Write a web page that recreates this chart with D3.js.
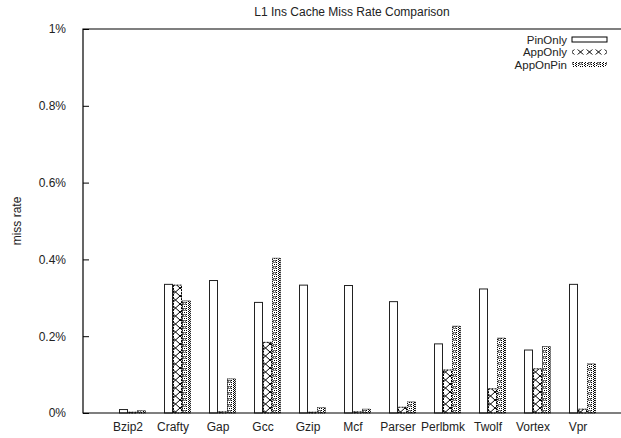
<!DOCTYPE html>
<html><head><meta charset="utf-8">
<script src="https://cdn.jsdelivr.net/npm/d3@7"></script>
<style>body{margin:0;background:#fff}svg{display:block}text{font-family:"Liberation Sans",Arial,sans-serif;fill:#222}</style>
</head><body><div id="chart"></div>
<script>
const categories = ["Bzip2","Crafty","Gap","Gcc","Gzip","Mcf","Parser","Perlbmk","Twolf","Vortex","Vpr"];
const seriesNames = ["PinOnly","AppOnly","AppOnPin"];
const pinOnly  = [0.009,0.335,0.345,0.288,0.333,0.332,0.290,0.180,0.323,0.164,0.335];
const appOnly  = [0.002,0.333,0.003,0.184,0.002,0.003,0.015,0.112,0.063,0.115,0.010];
const appOnPin = [0.006,0.292,0.089,0.403,0.014,0.010,0.029,0.226,0.195,0.173,0.128];
const yTicks = [0,0.2,0.4,0.6,0.8,1];
const yTickLabels = ["0%","0.2%","0.4%","0.6%","0.8%","1%"];
const title = "L1 Ins Cache Miss Rate Comparison";
const yTitle = "miss rate";

(function(){
const W=621,H=438;
const mLeft=83, mTop=29, mBottom=413, mRight=621;
const svg=d3.select("#chart").append("svg").attr("width",W).attr("height",H);
const defs=svg.append("defs");
const p1=defs.append("pattern").attr("id","pApp").attr("patternUnits","userSpaceOnUse").attr("width",9).attr("height",8);
p1.append("rect").attr("width",9).attr("height",8).attr("fill","#fff");
p1.append("path").attr("d","M0,0L9,8M9,0L0,8").attr("stroke","#000").attr("stroke-width",1);
const p2=defs.append("pattern").attr("id","pAppPin").attr("patternUnits","userSpaceOnUse").attr("width",9).attr("height",6);
p2.append("rect").attr("width",9).attr("height",6).attr("fill","#fff");
[[0,0],[2,1],[0,2],[2,3],[0,4],[2,5],[6,0],[8,1],[6,2],[8,3],[6,4],[8,5],[4,0]].forEach(d=>p2.append("rect").attr("x",d[0]).attr("y",d[1]).attr("width",1).attr("height",1).attr("fill","#000"));
p2.append("rect").attr("x",3.5).attr("y",2.5).attr("width",2).attr("height",2).attr("fill","none").attr("stroke","#555").attr("stroke-width",0.8);

const fills={PinOnly:"#fff",AppOnly:"url(#pApp)",AppOnPin:"url(#pAppPin)"};
const dash={PinOnly:null,AppOnly:"2,1",AppOnPin:"1,1"};

const y=d3.scaleLinear().domain([0,1]).range([mBottom,mTop]);
const x0=d3.scaleBand().domain(categories).range([119,596]).paddingInner(0.4).paddingOuter(0);
const x1=d3.scaleBand().domain(seriesNames).range([0,x0.bandwidth()]).padding(0);
const data=categories.map((c,i)=>({cat:c,vals:[pinOnly[i],appOnly[i],appOnPin[i]]}));

svg.append("text").attr("x",352).attr("y",16).attr("text-anchor","middle").attr("font-size",12).text(title);
svg.append("text").attr("transform","translate(21,221) rotate(-90)").attr("text-anchor","middle").attr("font-size",12).text(yTitle);

const g=svg.append("g");
data.forEach(d=>{
  seriesNames.forEach((s,j)=>{
    g.append("rect").attr("x",x0(d.cat)+x1(s)+0.5).attr("y",y(d.vals[j])).attr("width",x1.bandwidth()-1)
     .attr("height",Math.max(0,mBottom-y(d.vals[j]))).attr("fill",fills[s]).attr("stroke",s==="PinOnly"?"#222":"#000").attr("stroke-width",1)
     .attr("stroke-dasharray",dash[s]);
  });
});

const yAxis=d3.axisLeft(y).tickValues(yTicks).tickFormat((d,i)=>yTickLabels[i]).tickSize(-6).tickPadding(17);
const ya=svg.append("g").attr("transform",`translate(${mLeft},0)`).call(yAxis);
ya.select(".domain").remove();
ya.selectAll("line").attr("stroke","#000");
ya.selectAll("text").attr("font-size",12).attr("font-family","Liberation Sans, Arial, sans-serif").attr("fill","#222");

const xAxis=d3.axisBottom(x0).tickSize(0).tickPadding(9);
const xa=svg.append("g").attr("transform",`translate(0,${mBottom})`).call(xAxis);
xa.select(".domain").remove();
xa.selectAll(".tick").attr("transform",d=>`translate(${x0(d)+x1("AppOnly")},0)`);
xa.selectAll("text").attr("font-size",12).attr("font-family","Liberation Sans, Arial, sans-serif").attr("fill","#222");

svg.append("path").attr("d",`M${mRight},${mTop}H${mLeft}V${mBottom}H${mRight}`).attr("fill","none").attr("stroke","#000").attr("stroke-width",1.2);

const ly=[39.5,52,64.5];
seriesNames.forEach((s,i)=>{
  svg.append("text").attr("x",567).attr("y",ly[i]).attr("dy","0.35em").attr("text-anchor","end").attr("font-size",11.5).text(s);
  svg.append("rect").attr("x",572).attr("y",ly[i]-2.5).attr("width",35).attr("height",5).attr("fill",fills[s])
    .attr("stroke",s==="PinOnly"?"#000":"none").attr("stroke-width",1);
});
})();
</script></body></html>
